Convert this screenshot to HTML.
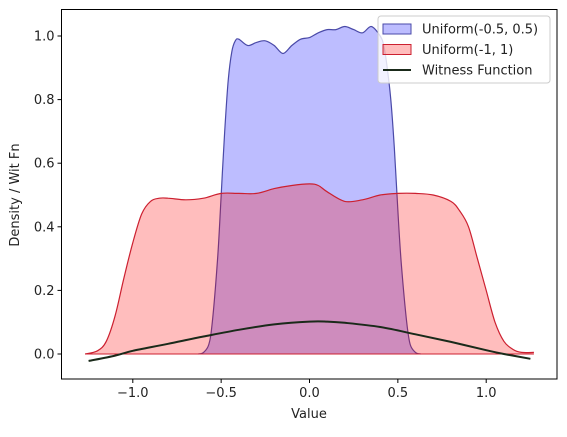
<!DOCTYPE html>
<html><head><meta charset="utf-8"><style>
body{margin:0;background:#fff;font-family:"Liberation Sans","DejaVu Sans",sans-serif}
svg text{font-family:"DejaVu Sans","Liberation Sans",sans-serif;font-size:13px;fill:#222}
</style></head><body>
<svg id="chart" width="567" height="432"></svg>
<script>
const blueX=[-0.63,-0.6,-0.57,-0.55,-0.52,-0.5,-0.48,-0.46,-0.44,-0.42,-0.4,-0.35,-0.3,-0.25,-0.2,-0.15,-0.1,-0.05,0,0.05,0.1,0.15,0.2,0.25,0.3,0.35,0.4,0.42,0.44,0.46,0.48,0.5,0.52,0.55,0.57,0.6,0.63];
const blueY=[0,0.005,0.03,0.1,0.3,0.5,0.7,0.86,0.95,0.985,0.99,0.97,0.98,0.985,0.97,0.945,0.97,0.99,0.995,1.01,1.02,1.02,1.03,1.02,1.01,1.03,1.0,0.97,0.9,0.8,0.65,0.45,0.28,0.1,0.03,0.005,0];
const redX=[-1.27,-1.2,-1.15,-1.1,-1.05,-1.0,-0.95,-0.9,-0.85,-0.8,-0.7,-0.6,-0.5,-0.4,-0.3,-0.2,-0.1,0,0.05,0.1,0.2,0.3,0.4,0.5,0.6,0.7,0.8,0.85,0.9,0.95,1.0,1.05,1.1,1.15,1.2,1.27];
const redY=[0,0.01,0.04,0.12,0.24,0.35,0.44,0.48,0.49,0.49,0.485,0.49,0.505,0.505,0.505,0.52,0.53,0.535,0.53,0.51,0.48,0.485,0.5,0.505,0.505,0.5,0.48,0.45,0.4,0.3,0.2,0.1,0.04,0.015,0.005,0.005];
const witX=[-1.25,-1.1,-1.0,-0.8,-0.6,-0.4,-0.2,0,0.1,0.2,0.4,0.6,0.8,1.0,1.1,1.25];
const witY=[-0.022,-0.005,0.01,0.032,0.055,0.076,0.093,0.102,0.102,0.098,0.085,0.062,0.038,0.012,0.0,-0.015];
const xTicks=[-1.0,-0.5,0.0,0.5,1.0];
const yTicks=[0.0,0.2,0.4,0.6,0.8,1.0];

const L=61.5,R=557,T=9.5,B=379;
const sx=v=>309.5+v*176.7;
const sy=v=>354-v*318;
const NS="http://www.w3.org/2000/svg";
const svg=document.getElementById('chart');
function mk(tag,attrs,parent){const e=document.createElementNS(NS,tag);for(const k in attrs)e.setAttribute(k,attrs[k]);(parent||svg).appendChild(e);return e;}
function smooth(xs,ys){
  const p=xs.map((x,i)=>[sx(x),sy(ys[i])]);
  let d='';
  for(let i=0;i<p.length-1;i++){
    const p0=p[Math.max(0,i-1)],p1=p[i],p2=p[i+1],p3=p[Math.min(p.length-1,i+2)];
    const c1=[p1[0]+(p2[0]-p0[0])/6,p1[1]+(p2[1]-p0[1])/6];
    const c2=[p2[0]-(p3[0]-p1[0])/6,p2[1]-(p3[1]-p1[1])/6];
    d+=' C'+c1[0].toFixed(1)+','+c1[1].toFixed(1)+' '+c2[0].toFixed(1)+','+c2[1].toFixed(1)+' '+p2[0].toFixed(1)+','+p2[1].toFixed(1);
  }
  return {start:p[0],d:d};
}
function linePath(xs,ys){const s=smooth(xs,ys);return 'M'+s.start[0].toFixed(1)+','+s.start[1].toFixed(1)+s.d;}
function areaPath(xs,ys){const s=smooth(xs,ys);return 'M'+sx(xs[0])+','+sy(0)+' L'+s.start[0].toFixed(1)+','+s.start[1].toFixed(1)+s.d+' L'+sx(xs[xs.length-1])+','+sy(0)+' Z';}

const ba=mk('path',{d:areaPath(blueX,blueY),fill:'#0000ff','fill-opacity':0.26,stroke:'none'});


const bl=mk('path',{d:linePath(blueX,blueY),fill:'none',stroke:'#4a4aa8','stroke-width':1.2});


const ra=mk('path',{d:areaPath(redX,redY),fill:'#ff0000','fill-opacity':0.26,stroke:'none'});


const rl=mk('path',{d:linePath(redX,redY),fill:'none',stroke:'#cc2030','stroke-width':1.2});


const rb=mk('line',{x1:sx(redX[0]),x2:sx(redX[redX.length-1]),y1:sy(0),y2:sy(0),stroke:'#cc2030','stroke-width':1});


const wl=mk('path',{d:linePath(witX,witY),fill:'none',stroke:'#1a2a1a','stroke-width':2});



const frame=mk('rect',{x:L,y:T,width:R-L,height:B-T,fill:'none',stroke:'#000','stroke-width':1});



xTicks.forEach(v=>{
  const t=mk('line',{x1:sx(v),x2:sx(v),y1:B,y2:B+4,stroke:'#000'});
  
  
  const l=mk('text',{x:sx(v),y:B+18,'text-anchor':'middle'});
  l.textContent=(v<0?'\u2212':'')+Math.abs(v).toFixed(1);
  
  
});
yTicks.forEach(v=>{
  const t=mk('line',{x1:L-4,x2:L,y1:sy(v),y2:sy(v),stroke:'#000'});
  
  
  const l=mk('text',{x:L-7,y:sy(v)+4.5,'text-anchor':'end'});
  l.textContent=v.toFixed(1);
  
  
});
const xt=mk('text',{x:309,y:418,'text-anchor':'middle'});xt.textContent='Value';


const yt=mk('text',{x:19,y:195,'text-anchor':'middle',transform:'rotate(-90 19 195)'});yt.textContent='Density / Wit Fn';



const lg=mk('g',{});


mk('rect',{x:378,y:16,width:172,height:67,rx:3,fill:'#fff','fill-opacity':0.8,stroke:'#ccc'},lg);
const entries=[['Uniform(-0.5, 0.5)','#0000ff','#4a4aa8','area'],['Uniform(-1, 1)','#ff0000','#cc2030','area'],['Witness Function','','#1a2a1a','line']];
entries.forEach((e,i)=>{
  const y=29+i*20.5;
  const g=mk('g',{},lg);
  
  
  if(e[3]==='area')mk('rect',{x:383,y:y-5,width:28,height:10,fill:e[1],'fill-opacity':0.26,stroke:e[2]},g);
  else mk('line',{x1:383,x2:411,y1:y,y2:y,stroke:e[2],'stroke-width':2},g);
  const t=mk('text',{x:422,y:y+4.5},g);t.textContent=e[0];
});
</script>
</body></html>
